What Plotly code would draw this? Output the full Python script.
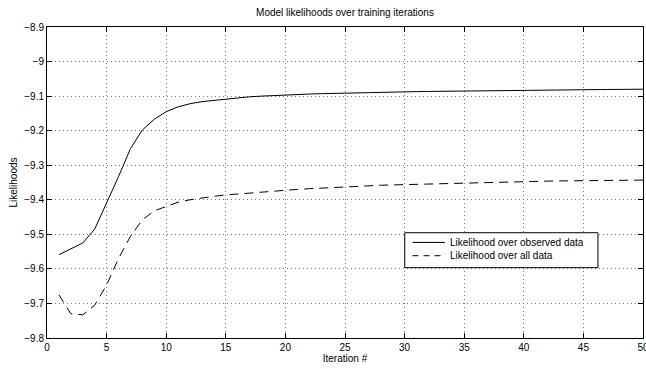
import plotly.graph_objects as go

iterations = list(range(1, 51))

observed_likelihood = [
    -9.559, -9.543, -9.525, -9.485, -9.410, -9.333, -9.252, -9.198, -9.167, -9.145,
    -9.131, -9.122, -9.116, -9.112, -9.108, -9.105, -9.102, -9.100, -9.098, -9.096,
    -9.095, -9.094, -9.093, -9.092, -9.091, -9.090, -9.089, -9.0885, -9.088, -9.0875,
    -9.087, -9.0865, -9.086, -9.0855, -9.085, -9.0845, -9.084, -9.0835, -9.083, -9.0827,
    -9.0824, -9.0821, -9.0818, -9.0815, -9.0812, -9.081, -9.0808, -9.0806, -9.0803, -9.080,
]

all_likelihood = [
    -9.675, -9.730, -9.733, -9.705, -9.647, -9.570, -9.506, -9.458, -9.432, -9.419,
    -9.407, -9.400, -9.394, -9.390, -9.386, -9.383, -9.380, -9.377, -9.374, -9.372,
    -9.370, -9.368, -9.366, -9.364, -9.362, -9.361, -9.359, -9.358, -9.357, -9.356,
    -9.355, -9.354, -9.353, -9.3525, -9.352, -9.351, -9.350, -9.349, -9.348, -9.347,
    -9.3465, -9.346, -9.3455, -9.345, -9.3445, -9.344, -9.3437, -9.3434, -9.3432, -9.343,
]

series_names = ["Likelihood over observed data", "Likelihood over all data"]

x_ticks = [0, 5, 10, 15, 20, 25, 30, 35, 40, 45, 50]
y_ticks = [-9.8, -9.7, -9.6, -9.5, -9.4, -9.3, -9.2, -9.1, -9.0, -8.9]
y_tick_labels = ["\u22129.8", "\u22129.7", "\u22129.6", "\u22129.5", "\u22129.4",
                 "\u22129.3", "\u22129.2", "\u22129.1", "\u22129", "\u22128.9"]

font_family = "Liberation Sans, Arial, Helvetica, sans-serif"
dash_style = "9px,6px"

fig = go.Figure()
fig.add_trace(go.Scatter(
    x=iterations, y=observed_likelihood, mode="lines",
    name=series_names[0], showlegend=False,
    line=dict(color="black", width=1),
))
fig.add_trace(go.Scatter(
    x=iterations, y=all_likelihood, mode="lines",
    name=series_names[1], showlegend=False,
    line=dict(color="black", width=1, dash=dash_style),
))

axis_common = dict(
    showline=True, linecolor="black", linewidth=1, mirror="ticks",
    ticks="inside", ticklen=5, tickcolor="black",
    showgrid=True, gridcolor="#7a7a7a", gridwidth=1, griddash="1px,3px",
    zeroline=False, ticklabeloverflow="allow",
    tickfont=dict(family=font_family, size=10, color="black"),
)

# custom legend box (paper coordinates)
lg_x0, lg_x1, lg_y0, lg_y1 = 0.6003, 0.9244, 0.2261, 0.3385
line_x0, line_x1 = 0.6133, 0.6675
row_y = [0.3073, 0.2646]
text_x = 0.6731

shapes = [
    dict(type="rect", xref="paper", yref="paper", x0=lg_x0, x1=lg_x1, y0=lg_y0, y1=lg_y1,
         line=dict(color="black", width=1), fillcolor="white", layer="above"),
    dict(type="line", xref="paper", yref="paper", x0=line_x0, x1=line_x1, y0=row_y[0], y1=row_y[0],
         line=dict(color="black", width=1), layer="above"),
    dict(type="line", xref="paper", yref="paper", x0=line_x0, x1=line_x1, y0=row_y[1], y1=row_y[1],
         line=dict(color="black", width=1, dash="6px,5px"), layer="above"),
]
annotations = [
    dict(xref="paper", yref="paper", x=text_x, y=row_y[i], xanchor="left", yanchor="middle",
         text=series_names[i], showarrow=False,
         font=dict(family=font_family, size=10, color="black"))
    for i in range(2)
]

fig.update_layout(
    width=646, height=369,
    margin=dict(l=47, r=3, t=27, b=31),
    paper_bgcolor="white", plot_bgcolor="white",
    title=dict(
        text="Model likelihoods over training iterations",
        x=(47 + 643) / 2 / 646, xanchor="center",
        y=1 - 12 / 369, yanchor="middle",
        font=dict(family=font_family, size=10, color="black"),
    ),
    xaxis=dict(
        range=[0, 50], tickvals=x_ticks,
        title=dict(text="Iteration #", standoff=2,
                   font=dict(family=font_family, size=10, color="black")),
        automargin=False,
        **axis_common,
    ),
    yaxis=dict(
        range=[-9.8, -8.9], tickvals=y_ticks, ticktext=y_tick_labels,
        title=dict(text="Likelihoods", standoff=4,
                   font=dict(family=font_family, size=10, color="black")),
        automargin=False,
        **axis_common,
    ),
    shapes=shapes,
    annotations=annotations,
    showlegend=False,
)

fig.write_html("out.html", config={"displayModeBar": False},
               post_script="document.body.style.margin='0';")
